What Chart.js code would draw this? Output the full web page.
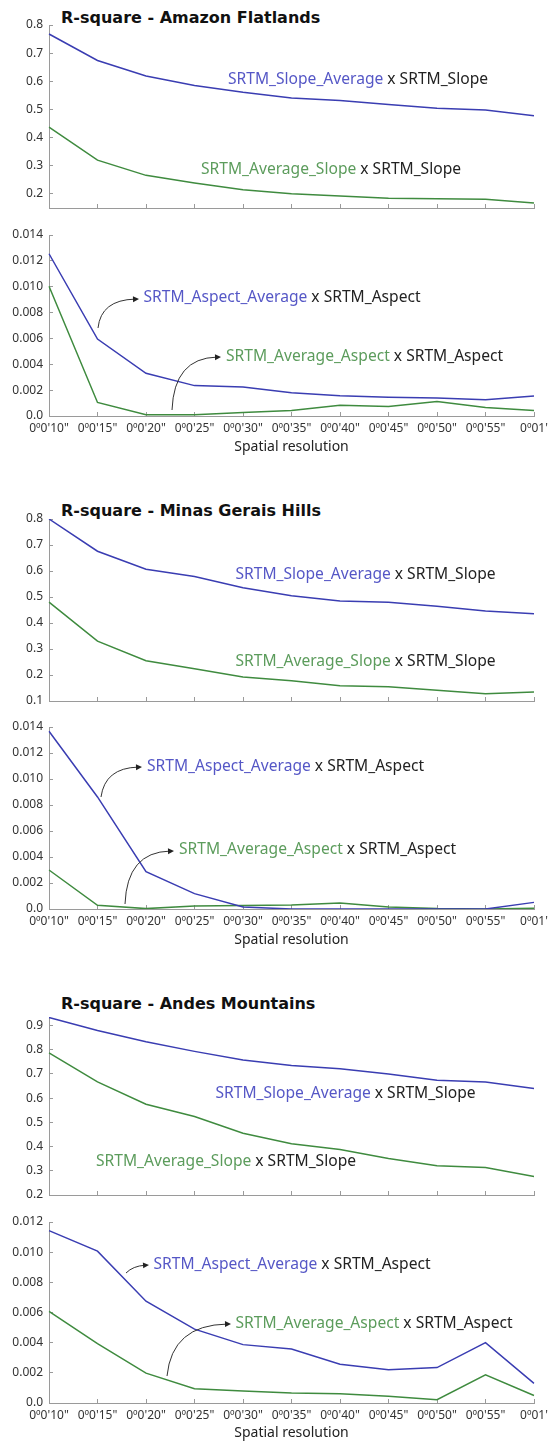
<!DOCTYPE html>
<html lang="en">
<head>
  <meta charset="UTF-8" />
  <title>R-square by spatial resolution</title>
  <script src="https://cdn.jsdelivr.net/npm/chart.js"></script>
  <style>
    html, body { margin: 0; padding: 0; background: #fff; width: 548px; height: 1441px; overflow: hidden; position: relative; }
    canvas { position: absolute; left: 0; }
    .title { position: absolute; left: 61px; font: bold 16px 'DejaVu Sans'; line-height: 16px; color: #111; white-space: nowrap; }
  </style>
</head>
<body>
  <div class="title" style="top:10px">R-square - Amazon Flatlands</div>
  <canvas id="c1" width="600" height="203" style="top:15px"></canvas>
  <canvas id="c2" width="600" height="230" style="top:225px"></canvas>

  <div class="title" style="top:503px">R-square - Minas Gerais Hills</div>
  <canvas id="c3" width="600" height="202" style="top:509px"></canvas>
  <canvas id="c4" width="600" height="231" style="top:717px"></canvas>

  <div class="title" style="top:996px">R-square - Andes Mountains</div>
  <canvas id="c5" width="600" height="198" style="top:1007px"></canvas>
  <canvas id="c6" width="600" height="229" style="top:1212px"></canvas>

  <script>
    const resolutions = ["0º0'10\"", "0º0'15\"", "0º0'20\"", "0º0'25\"", "0º0'30\"", "0º0'35\"",
                         "0º0'40\"", "0º0'45\"", "0º0'50\"", "0º0'55\"", "0º01'"];

    // Amazon Flatlands
    const amazonSlopeAvg = [0.768, 0.674, 0.619, 0.585, 0.561, 0.541, 0.532, 0.518, 0.504, 0.498, 0.478];
    const amazonAvgSlope = [0.437, 0.320, 0.266, 0.239, 0.215, 0.201, 0.193, 0.185, 0.183, 0.181, 0.168];
    const amazonAspectAvg = [0.01255, 0.00595, 0.0033, 0.00235, 0.00225, 0.0018, 0.00157, 0.00145, 0.0014, 0.00125, 0.00155];
    const amazonAvgAspect = [0.01003, 0.00105, 0.0001, 0.0001, 0.00028, 0.00043, 0.00084, 0.00074, 0.00112, 0.00066, 0.00043];

    // Minas Gerais Hills
    const minasSlopeAvg = [0.800, 0.676, 0.607, 0.579, 0.536, 0.505, 0.485, 0.480, 0.464, 0.446, 0.436];
    const minasAvgSlope = [0.480, 0.330, 0.255, 0.224, 0.192, 0.178, 0.159, 0.155, 0.141, 0.128, 0.135];
    const minasAspectAvg = [0.01367, 0.00862, 0.00287, 0.00118, 0.00015, 0, 0, 0, 0, 0, 0.00051];
    const minasAvgAspect = [0.0030, 0.00028, 0.00003, 0.00023, 0.00026, 0.00031, 0.00046, 0.00015, 0.00003, 0, 0.00005];

    // Andes Mountains
    const andesSlopeAvg = [0.933, 0.879, 0.833, 0.793, 0.757, 0.735, 0.721, 0.700, 0.674, 0.667, 0.640];
    const andesAvgSlope = [0.787, 0.667, 0.575, 0.524, 0.455, 0.412, 0.388, 0.351, 0.321, 0.314, 0.276];
    const andesAspectAvg = [0.01143, 0.01007, 0.00675, 0.0049, 0.00387, 0.00358, 0.00257, 0.0022, 0.00235, 0.0040, 0.0013];
    const andesAvgAspect = [0.00607, 0.00393, 0.00198, 0.00095, 0.00079, 0.00066, 0.00062, 0.00044, 0.00022, 0.00187, 0.0005];

    // y tick values
    const slopeTicksA = [0.2, 0.3, 0.4, 0.5, 0.6, 0.7, 0.8];
    const slopeTicksM = [0.1, 0.2, 0.3, 0.4, 0.5, 0.6, 0.7, 0.8];
    const slopeTicksAn = [0.2, 0.3, 0.4, 0.5, 0.6, 0.7, 0.8, 0.9];
    const aspectTicks14 = [0, 0.002, 0.004, 0.006, 0.008, 0.010, 0.012, 0.014];
    const aspectTicks12 = [0, 0.002, 0.004, 0.006, 0.008, 0.010, 0.012];

    const BLUE = '#3a3db2', GREEN = '#3f8b3f';
    const BLUE_TXT = '#5557c6', GREEN_TXT = '#5c9c5c';
    const AXIS = '#9a9a9a';

    Chart.defaults.font.family = "'Noto Sans'";
    Chart.defaults.color = '#333';

    const fmtSlope = v => v.toFixed(1);
    const fmtAspect = v => (v === 0 ? '0.0' : v.toFixed(3));

    // annotation text + curved arrows, page coordinates
    const notes = {
      c1: [
        { name: 'SRTM_Slope_Average', ref: 'SRTM_Slope', color: BLUE_TXT, x: 228, y: 80 },
        { name: 'SRTM_Average_Slope', ref: 'SRTM_Slope', color: GREEN_TXT, x: 201, y: 170 }
      ],
      c2: [
        { name: 'SRTM_Aspect_Average', ref: 'SRTM_Aspect', color: BLUE_TXT, x: 143.5, y: 298, arrow: [98, 328, 101, 300, 139, 299] },
        { name: 'SRTM_Average_Aspect', ref: 'SRTM_Aspect', color: GREEN_TXT, x: 226, y: 357, arrow: [172, 410, 174, 358, 221, 357] }
      ],
      c3: [
        { name: 'SRTM_Slope_Average', ref: 'SRTM_Slope', color: BLUE_TXT, x: 235.5, y: 574.5 },
        { name: 'SRTM_Average_Slope', ref: 'SRTM_Slope', color: GREEN_TXT, x: 235.5, y: 662 }
      ],
      c4: [
        { name: 'SRTM_Aspect_Average', ref: 'SRTM_Aspect', color: BLUE_TXT, x: 147, y: 767, arrow: [101, 797, 105, 768, 142, 767] },
        { name: 'SRTM_Average_Aspect', ref: 'SRTM_Aspect', color: GREEN_TXT, x: 179, y: 850, arrow: [125, 904, 127, 852, 174, 851] }
      ],
      c5: [
        { name: 'SRTM_Slope_Average', ref: 'SRTM_Slope', color: BLUE_TXT, x: 215.5, y: 1094 },
        { name: 'SRTM_Average_Slope', ref: 'SRTM_Slope', color: GREEN_TXT, x: 96, y: 1162 }
      ],
      c6: [
        { name: 'SRTM_Aspect_Average', ref: 'SRTM_Aspect', color: BLUE_TXT, x: 153.5, y: 1265, arrow: [126, 1273, 133, 1266, 149, 1265] },
        { name: 'SRTM_Average_Aspect', ref: 'SRTM_Aspect', color: GREEN_TXT, x: 235.5, y: 1324, arrow: [167, 1376, 172, 1325, 231, 1324] }
      ]
    };

    const notesPlugin = {
      id: 'notes',
      afterDatasetsDraw(chart) {
        const list = notes[chart.canvas.id] || [];
        const top = parseFloat(chart.canvas.style.top);
        const ctx = chart.ctx;
        ctx.save();
        ctx.translate(0, -top);
        ctx.font = "15.6px 'Noto Sans'";
        ctx.textBaseline = 'middle';
        list.forEach(n => {
          ctx.fillStyle = n.color;
          ctx.fillText(n.name, n.x, n.y);
          const w = ctx.measureText(n.name).width;
          ctx.fillStyle = '#222';
          ctx.fillText(' x ' + n.ref, n.x + w, n.y);
          if (n.arrow) {
            const [x0, y0, cx, cy, x1, y1] = n.arrow;
            const a = Math.atan2(y1 - cy, x1 - cx);
            ctx.strokeStyle = '#333';
            ctx.lineWidth = 1;
            ctx.beginPath();
            ctx.moveTo(x0, y0);
            ctx.quadraticCurveTo(cx, cy, x1 - 4 * Math.cos(a), y1 - 4 * Math.sin(a));
            ctx.stroke();
            ctx.fillStyle = '#222';
            ctx.beginPath();
            ctx.moveTo(x1, y1);
            ctx.lineTo(x1 - 6 * Math.cos(a) + 3 * Math.sin(a), y1 - 6 * Math.sin(a) - 3 * Math.cos(a));
            ctx.lineTo(x1 - 6 * Math.cos(a) - 3 * Math.sin(a), y1 - 6 * Math.sin(a) + 3 * Math.cos(a));
            ctx.closePath();
            ctx.fill();
          }
        });
        ctx.restore();
      }
    };

    function panel(id, blue, green, yMin, yMax, yTicks, fmt, xHeight, showX) {
      new Chart(document.getElementById(id), {
        type: 'line',
        data: {
          labels: resolutions,
          datasets: [
            { data: blue, borderColor: BLUE, borderWidth: 1.5, pointRadius: 0, pointHoverRadius: 0, tension: 0 },
            { data: green, borderColor: GREEN, borderWidth: 1.5, pointRadius: 0, pointHoverRadius: 0, tension: 0 }
          ]
        },
        options: {
          responsive: false,
          animation: false,
          layout: { padding: { top: 10, right: 66, bottom: 0, left: 0 } },
          plugins: { legend: { display: false }, tooltip: { enabled: false } },
          scales: {
            x: {
              grid: { drawOnChartArea: false, tickLength: -4, color: AXIS },
              border: { color: AXIS },
              ticks: { display: showX, maxRotation: 0, autoSkip: false, padding: 9, font: { size: 12 }, color: '#333' },
              title: { display: showX, text: 'Spatial resolution', font: { size: 14 }, color: '#222', padding: 0 },
              afterFit: s => { s.height = xHeight; }
            },
            y: {
              min: yMin,
              max: yMax,
              grid: { drawOnChartArea: false, tickLength: -4, color: AXIS },
              border: { color: AXIS },
              ticks: { padding: 10, font: { size: 12 }, color: '#333', callback: v => fmt(v) },
              afterBuildTicks: s => { s.ticks = yTicks.map(v => ({ value: v })); },
              afterFit: s => { s.width = 49; s.paddingTop = 0; s.paddingBottom = 0; }
            }
          }
        },
        plugins: [notesPlugin]
      });
    }

    panel('c1', amazonSlopeAvg, amazonAvgSlope, 0.15, 0.8, slopeTicksA, fmtSlope, 10, false);
    panel('c2', amazonAspectAvg, amazonAvgAspect, 0, 0.014, aspectTicks14, fmtAspect, 39, true);
    panel('c3', minasSlopeAvg, minasAvgSlope, 0.1, 0.8, slopeTicksM, fmtSlope, 10, false);
    panel('c4', minasAspectAvg, minasAvgAspect, 0, 0.014, aspectTicks14, fmtAspect, 39, true);
    panel('c5', andesSlopeAvg, andesAvgSlope, 0.2, 0.935, slopeTicksAn, fmtSlope, 10, false);
    panel('c6', andesAspectAvg, andesAvgAspect, 0, 0.012, aspectTicks12, fmtAspect, 38, true);
  </script>
</body>
</html>
